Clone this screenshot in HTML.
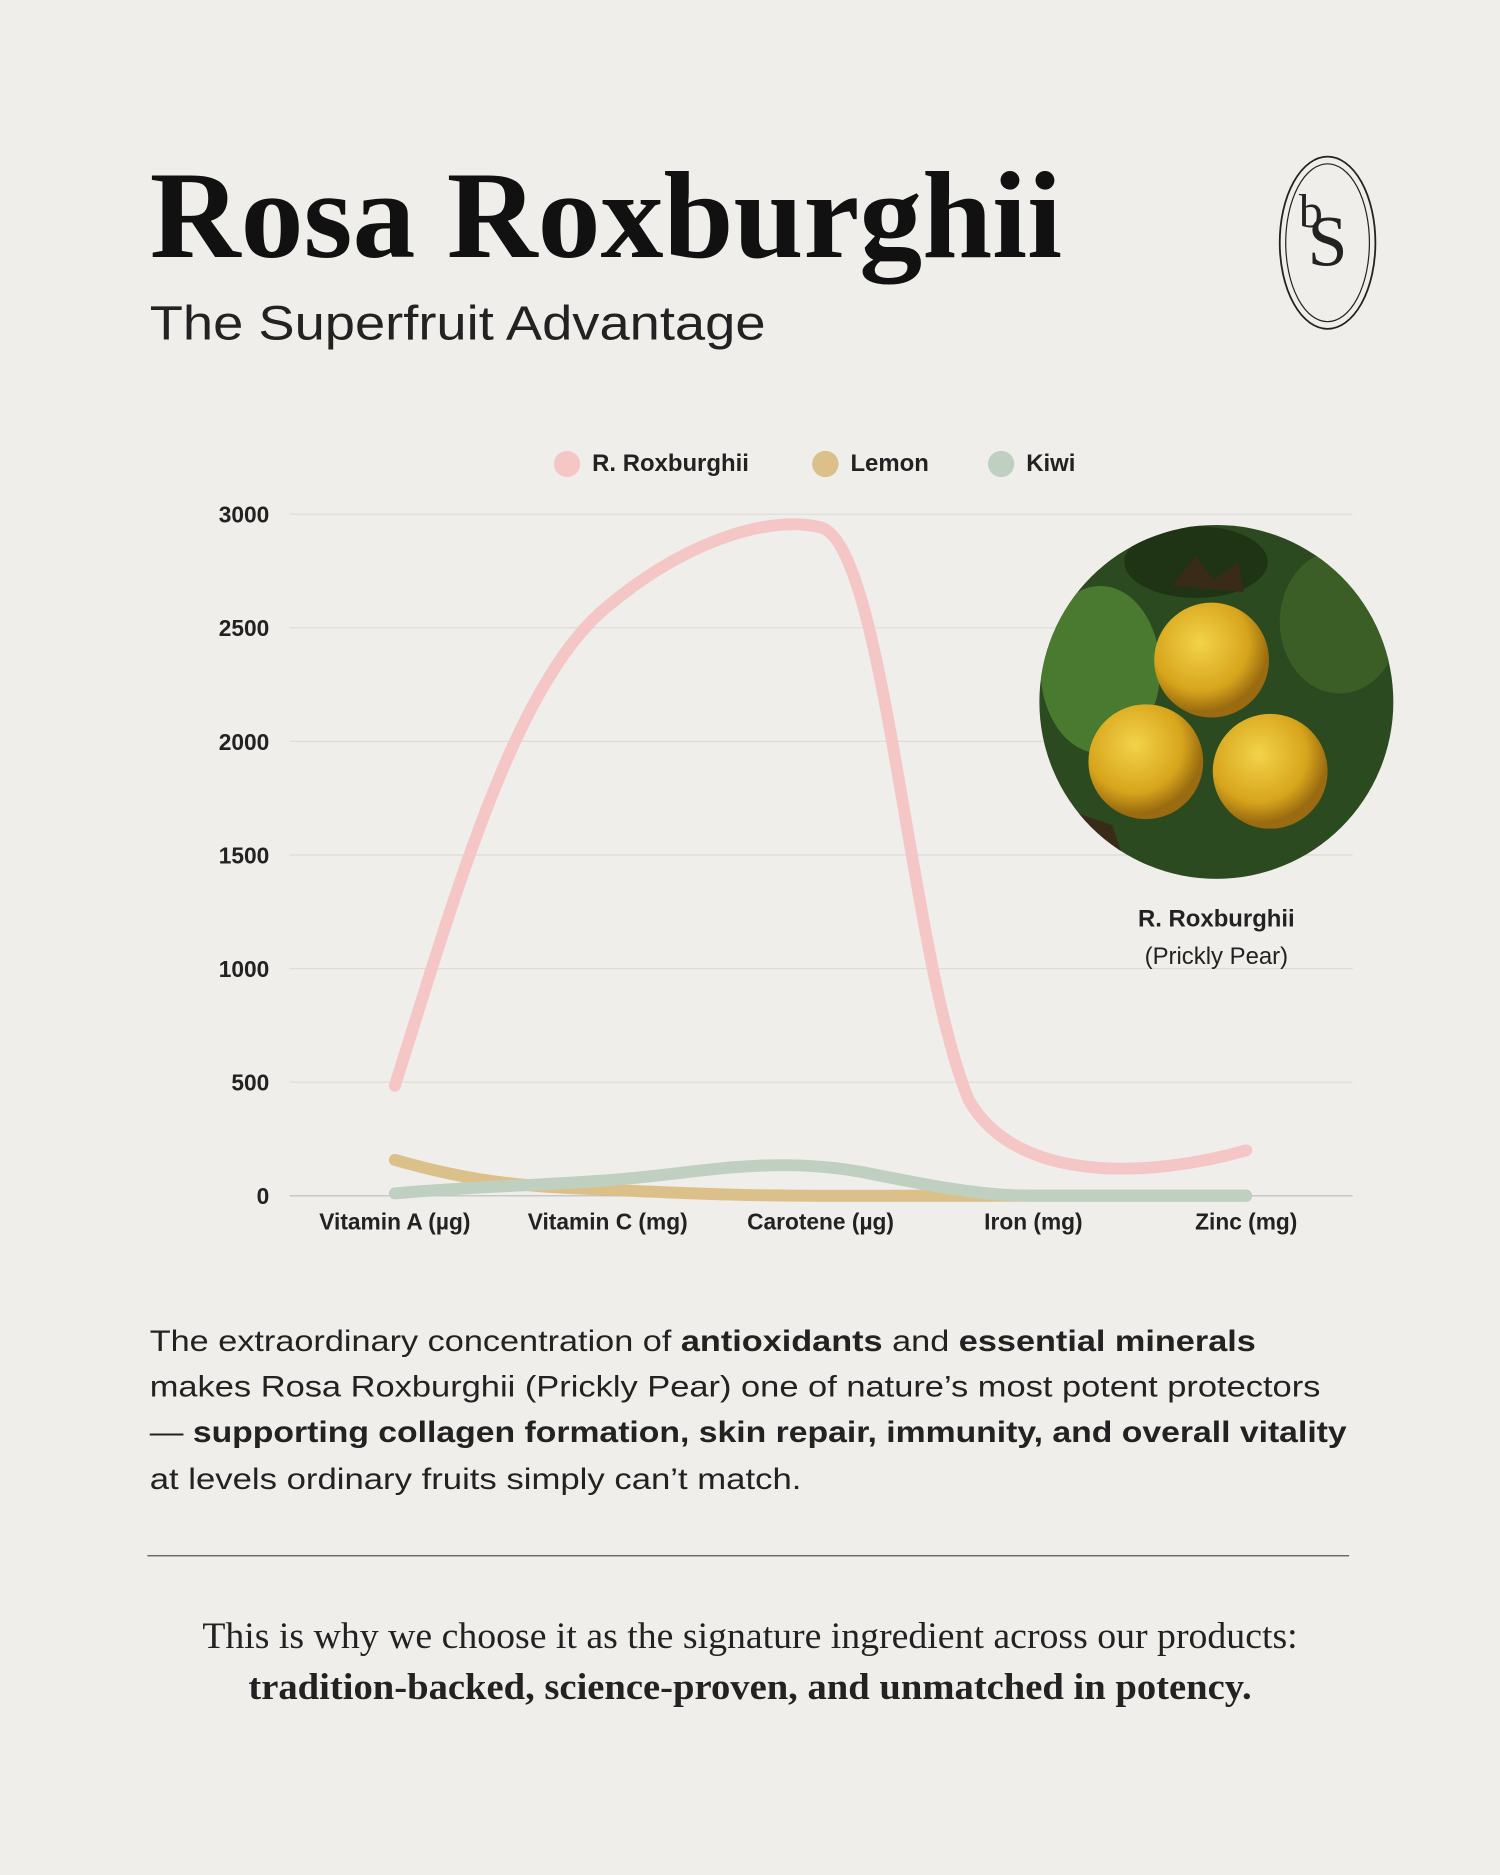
<!DOCTYPE html>
<html><head><meta charset="utf-8"><style>
html,body{margin:0;padding:0;background:#f0eeeb;}
svg{display:block}
</style></head><body>
<svg width="1500" height="1875" viewBox="0 0 1254 1568" xmlns="http://www.w3.org/2000/svg">
<rect width="1254" height="1568" fill="#f0eeeb"/>
<text x="125" y="215" font-family="Liberation Serif, serif" font-weight="bold" font-size="104" textLength="763" lengthAdjust="spacingAndGlyphs" fill="#111">Rosa Roxburghii</text>
<text x="125" y="284" font-family="Liberation Sans, sans-serif" font-size="40" textLength="515" lengthAdjust="spacingAndGlyphs" fill="#222">The Superfruit Advantage</text>
<ellipse cx="1110" cy="203" rx="40" ry="72" fill="none" stroke="#222" stroke-width="1.5"/>
<ellipse cx="1110" cy="203" rx="35" ry="66" fill="none" stroke="#222" stroke-width="1"/>
<text x="1110" y="222" text-anchor="middle" font-family="Liberation Serif, serif" font-size="60" fill="#222">S</text>
<text x="1096" y="190" text-anchor="middle" font-family="Liberation Serif, serif" font-size="40" fill="#222">b</text>
<!-- legend -->
<g font-family="Liberation Sans, sans-serif" font-size="20" font-weight="bold" fill="#222">
<circle cx="474" cy="388" r="11" fill="#f5c6c6"/><text x="495" y="394">R. Roxburghii</text>
<circle cx="690" cy="388" r="11" fill="#dcc08a"/><text x="711" y="394">Lemon</text>
<circle cx="837" cy="388" r="11" fill="#bfd0c0"/><text x="858" y="394">Kiwi</text>
</g>
<!-- grid -->
<g stroke="#dedbd6" stroke-width="1">
<line x1="242" y1="430" x2="1131" y2="430"/><line x1="242" y1="525" x2="1131" y2="525"/>
<line x1="242" y1="620" x2="1131" y2="620"/><line x1="242" y1="715" x2="1131" y2="715"/>
<line x1="242" y1="810" x2="1131" y2="810"/><line x1="242" y1="905" x2="1131" y2="905"/>
</g>
<line x1="242" y1="1000" x2="1131" y2="1000" stroke="#bbb" stroke-width="1"/>
<g font-family="Liberation Sans, sans-serif" font-size="19" font-weight="bold" fill="#222" text-anchor="end">
<text x="225" y="437">3000</text><text x="225" y="532">2500</text><text x="225" y="627">2000</text>
<text x="225" y="722">1500</text><text x="225" y="817">1000</text><text x="225" y="912">500</text><text x="225" y="1007">0</text>
</g>
<g font-family="Liberation Sans, sans-serif" font-size="19" font-weight="bold" fill="#222" text-anchor="middle">
<text x="330" y="1028">Vitamin A (µg)</text><text x="508" y="1028">Vitamin C (mg)</text>
<text x="686" y="1028">Carotene (µg)</text><text x="864" y="1028">Iron (mg)</text><text x="1042" y="1028">Zinc (mg)</text>
</g>
<g fill="none" stroke-width="10" stroke-linecap="round">
<path d="M330,970 C400,990 440,992 508,995 C580,998 620,1000 686,1000 L1042,1000" stroke="#dcc08a"/>
<path d="M330,998 C400,992 440,992 508,987 C580,982 640,966 720,980 C780,992 820,1000 864,1000 L1042,1000" stroke="#bfd0c0"/>
<path d="M330,908 C380,750 430,570 508,507 C570,455 640,430 686,441 C740,455 760,800 810,920 C850,990 960,985 1042,962" stroke="#f5c6c6"/>
</g>
<!-- photo -->
<defs><clipPath id="c"><circle cx="1017" cy="587" r="148"/></clipPath>
<radialGradient id="y" cx="40%" cy="35%" r="60%"><stop offset="0" stop-color="#f3d34a"/><stop offset="0.7" stop-color="#d7a51c"/><stop offset="1" stop-color="#9a6b10"/></radialGradient></defs>
<g clip-path="url(#c)">
<rect x="860" y="430" width="320" height="320" fill="#2c4a1f"/>
<ellipse cx="920" cy="560" rx="50" ry="70" fill="#4a7a30"/>
<ellipse cx="1120" cy="520" rx="50" ry="60" fill="#3a5e26"/>
<ellipse cx="1000" cy="470" rx="60" ry="30" fill="#1e3415"/>
<circle cx="1013" cy="552" r="48" fill="url(#y)"/>
<circle cx="958" cy="637" r="48" fill="url(#y)"/>
<circle cx="1062" cy="645" r="48" fill="url(#y)"/>
<path d="M980,490 l20,-25 l15,20 l20,-15 l5,25 z" fill="#3a2a18"/>
<path d="M900,680 l30,10 l10,30 l-30,-5 z" fill="#3a2a18"/>
</g>
<g font-family="Liberation Sans, sans-serif" text-anchor="middle" fill="#222">
<text x="1017" y="775" font-size="20" font-weight="bold">R. Roxburghii</text>
<text x="1017" y="806" font-size="20">(Prickly Pear)</text>
</g>
<!-- paragraph -->
<g font-family="Liberation Sans, sans-serif" font-size="25" fill="#222">
<text x="125" y="1130" textLength="925" lengthAdjust="spacingAndGlyphs">The extraordinary concentration of <tspan font-weight="bold">antioxidants</tspan> and <tspan font-weight="bold">essential minerals</tspan></text>
<text x="125" y="1168" textLength="979" lengthAdjust="spacingAndGlyphs">makes Rosa Roxburghii (Prickly Pear) one of nature’s most potent protectors</text>
<text x="125" y="1206" textLength="1001" lengthAdjust="spacingAndGlyphs">— <tspan font-weight="bold">supporting collagen formation, skin repair, immunity, and overall vitality</tspan></text>
<text x="125" y="1245" textLength="545" lengthAdjust="spacingAndGlyphs">at levels ordinary fruits simply can’t match.</text>
</g>
<line x1="123" y1="1301" x2="1128" y2="1301" stroke="#555" stroke-width="1"/>
<g font-family="Liberation Serif, serif" font-size="31" fill="#222" text-anchor="middle">
<text x="627" y="1378" textLength="916" lengthAdjust="spacingAndGlyphs">This is why we choose it as the signature ingredient across our products:</text>
<text x="627" y="1421" font-weight="bold" textLength="839" lengthAdjust="spacingAndGlyphs">tradition-backed, science-proven, and unmatched in potency.</text>
</g>
</svg>
</body></html>
